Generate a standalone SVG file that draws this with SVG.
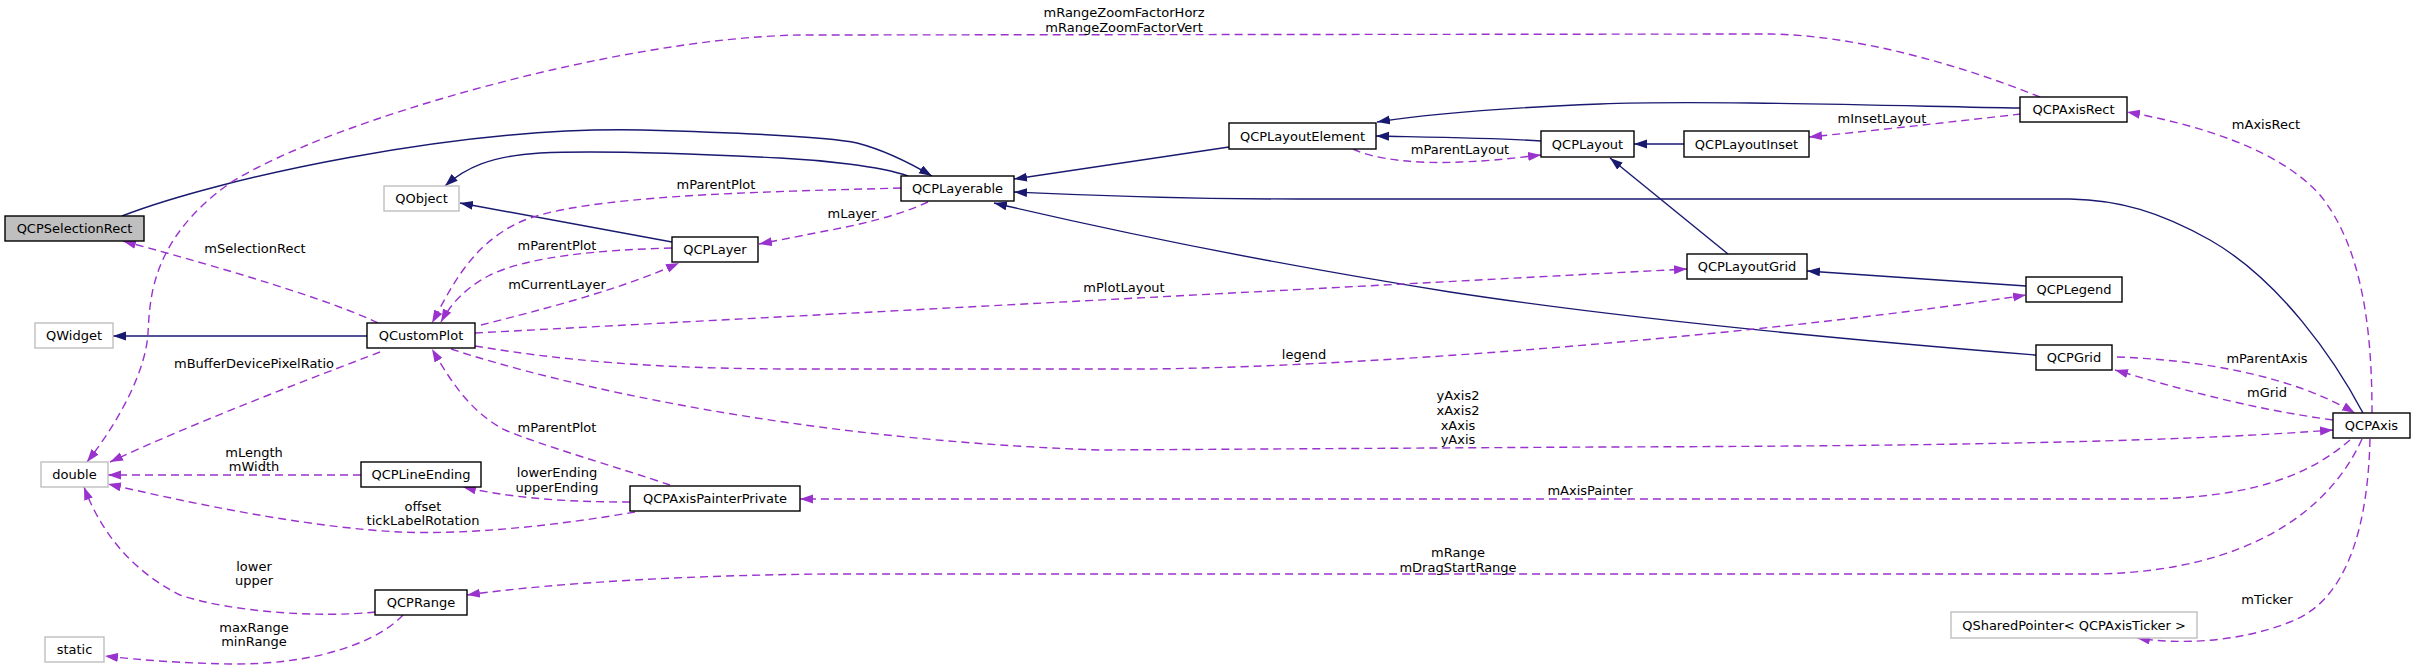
<svg xmlns="http://www.w3.org/2000/svg" width="2416" height="669" viewBox="0 0 2416 669">
<style>
text{font-family:"DejaVu Sans","Liberation Sans",sans-serif;font-size:13px;fill:#000;text-anchor:middle}
.n rect{fill:#fff;stroke:#000;stroke-width:1.4}
.n.ext rect{stroke:#bfbfbf}
.n.sel rect{fill:#bfbfbf}
.inh{fill:none;stroke:#191970;stroke-width:1.4;marker-end:url(#an)}
.use{fill:none;stroke:#9a32cd;stroke-width:1.4;stroke-dasharray:8,5;marker-end:url(#ap)}
</style>
<defs>
<marker id="an" markerUnits="userSpaceOnUse" markerWidth="14" markerHeight="10" refX="13" refY="4.5" orient="auto"><path d="M0,0 L13,4.5 L0,9 z" fill="#191970"/></marker>
<marker id="ap" markerUnits="userSpaceOnUse" markerWidth="14" markerHeight="10" refX="13" refY="4.5" orient="auto"><path d="M0,0 L13,4.5 L0,9 z" fill="#9a32cd"/></marker>
</defs>
<rect width="2416" height="669" fill="#fff"/>
<g id="connectors">
<path class="inh" d="M122,216 C220,178 460,126 642,130 C750,133 830,137 857,143 C884,150 910,163 932,176"/>
<path class="inh" d="M908,176 C880,166 820,160 780,158 C700,154 600,150 540,153 C490,156 465,168 445,186"/>
<path class="inh" d="M672,242 L460,203"/>
<path class="inh" d="M367,336 L113,336"/>
<path class="inh" d="M1229,147 L1014,179"/>
<path class="inh" d="M1541,141 C1500,138 1420,137 1376,136"/>
<path class="inh" d="M2020,108 C1900,106 1700,100 1600,104 C1500,108 1420,115 1377,122"/>
<path class="inh" d="M1684,144 L1634,144"/>
<path class="inh" d="M1728,254 L1610,158"/>
<path class="inh" d="M2026,286 L1807,271"/>
<path class="inh" d="M2363,413 C2335,360 2280,280 2210,240 C2160,212 2120,200 2070,199 L1300,199 C1200,199 1100,196 1014,192"/>
<path class="inh" d="M2036,355 C1850,340 1620,318 1450,292 C1300,268 1130,235 994,203"/>

<path class="use" d="M2040,97 C1960,65 1860,36 1772,34 L800,35 C620,38 330,120 230,183 C150,240 150,300 148,333 C146,370 120,420 87,462"/>
<text x="1124" y="16.5">mRangeZoomFactorHorz</text>
<text x="1124" y="31.5">mRangeZoomFactorVert</text>
<path class="use" d="M378,323 C330,300 230,270 123,241"/>
<text x="255" y="253">mSelectionRect</text>
<path class="use" d="M901,188 C760,192 580,195 520,222 C470,245 450,290 432,323"/>
<text x="716" y="189">mParentPlot</text>
<path class="use" d="M672,248 C600,250 530,256 490,275 C465,288 450,305 441,322"/>
<text x="557" y="250">mParentPlot</text>
<path class="use" d="M481,325 C540,310 620,290 679,263"/>
<text x="557" y="289">mCurrentLayer</text>
<path class="use" d="M928,202 C900,215 860,225 820,232 C795,237 775,241 759,244"/>
<text x="852" y="218">mLayer</text>
<path class="use" d="M475,333 L1687,269"/>
<text x="1124" y="292">mPlotLayout</text>
<path class="use" d="M475,346 C560,360 650,369 800,369 L1150,369 C1400,366 1800,330 2026,295"/>
<text x="1304" y="359">legend</text>
<path class="use" d="M451,349 C560,385 800,440 1100,450 L1600,447 C2000,446 2200,440 2333,430"/>
<text x="1458" y="400">yAxis2</text>
<text x="1458" y="415">xAxis2</text>
<text x="1458" y="429.5">xAxis</text>
<text x="1458" y="444">yAxis</text>
<path class="use" d="M2350,440 C2310,475 2250,499 2140,499 L800,499"/>
<text x="1590" y="495">mAxisPainter</text>
<path class="use" d="M2362,439 C2330,510 2250,570 2100,574 L830,574 C700,575 560,582 467,595"/>
<text x="1458" y="556.5">mRange</text>
<text x="1458" y="571.5">mDragStartRange</text>
<path class="use" d="M2370,439 C2368,520 2350,600 2290,622 C2240,642 2180,645 2137,638"/>
<text x="2267" y="603.5">mTicker</text>
<path class="use" d="M2372,413 C2372,340 2365,250 2320,195 C2280,150 2200,125 2127,112"/>
<text x="2266" y="128.5">mAxisRect</text>
<path class="use" d="M2117,357 C2200,360 2290,375 2355,413"/>
<text x="2267" y="362.5">mParentAxis</text>
<path class="use" d="M2333,420 C2260,410 2200,395 2115,370"/>
<text x="2267" y="396.5">mGrid</text>
<path class="use" d="M1353,149 C1375,160 1420,164 1460,162 C1490,161 1515,158 1541,155"/>
<text x="1460" y="153.5">mParentLayout</text>
<path class="use" d="M2021,114 C1950,122 1880,130 1809,137"/>
<text x="1882" y="122.5">mInsetLayout</text>
<path class="use" d="M380,352 C320,375 200,420 110,462"/>
<text x="254" y="367.5">mBufferDevicePixelRatio</text>
<path class="use" d="M361,475 L108,475"/>
<text x="254" y="456.5">mLength</text>
<text x="254" y="471">mWidth</text>
<path class="use" d="M630,502 C580,502 520,500 463,487"/>
<text x="557" y="477">lowerEnding</text>
<text x="557" y="492">upperEnding</text>
<path class="use" d="M635,512 C560,525 470,535 400,532 C320,528 220,510 108,484"/>
<text x="423" y="510.5">offset</text>
<text x="423" y="525">tickLabelRotation</text>
<path class="use" d="M670,485 C620,468 540,445 505,430 C470,412 450,380 432,349"/>
<text x="557" y="431.5">mParentPlot</text>
<path class="use" d="M375,612 C320,618 230,612 180,595 C130,570 100,530 84,487"/>
<text x="254" y="571">lower</text>
<text x="254" y="585">upper</text>
<path class="use" d="M403,615 C380,640 320,665 230,664 C180,663 140,660 105,656"/>
<text x="254" y="631.5">maxRange</text>
<text x="254" y="645.5">minRange</text>
</g>
<g id="QCPSelectionRect" class="n sel"><rect x="5" y="216" width="139" height="25"/><text x="74.5" y="233">QCPSelectionRect</text></g>
<g id="QObject" class="n ext"><rect x="384" y="186" width="75" height="25"/><text x="421.5" y="203">QObject</text></g>
<g id="QCPLayer" class="n"><rect x="672" y="237" width="86" height="25"/><text x="715" y="254">QCPLayer</text></g>
<g id="QWidget" class="n ext"><rect x="35" y="323" width="78" height="25"/><text x="74" y="340">QWidget</text></g>
<g id="QCustomPlot" class="n"><rect x="367" y="323" width="108" height="25"/><text x="421" y="340">QCustomPlot</text></g>
<g id="double" class="n ext"><rect x="41" y="462" width="67" height="25"/><text x="74.5" y="479">double</text></g>
<g id="QCPLineEnding" class="n"><rect x="361" y="462" width="120" height="25"/><text x="421" y="479">QCPLineEnding</text></g>
<g id="QCPAxisPainterPrivate" class="n"><rect x="630" y="486" width="170" height="25"/><text x="715" y="503">QCPAxisPainterPrivate</text></g>
<g id="QCPRange" class="n"><rect x="375" y="590" width="92" height="25"/><text x="421" y="607">QCPRange</text></g>
<g id="static" class="n ext"><rect x="45" y="637" width="59" height="25"/><text x="74.5" y="654">static</text></g>
<g id="QCPLayerable" class="n"><rect x="901" y="176" width="113" height="25"/><text x="957.5" y="193">QCPLayerable</text></g>
<g id="QCPLayoutElement" class="n"><rect x="1229" y="123" width="147" height="26"/><text x="1302.5" y="140.5">QCPLayoutElement</text></g>
<g id="QCPLayout" class="n"><rect x="1541" y="131" width="93" height="26"/><text x="1587.5" y="148.5">QCPLayout</text></g>
<g id="QCPLayoutInset" class="n"><rect x="1684" y="131" width="125" height="26"/><text x="1746.5" y="148.5">QCPLayoutInset</text></g>
<g id="QCPAxisRect" class="n"><rect x="2020" y="97" width="107" height="25"/><text x="2073.5" y="114">QCPAxisRect</text></g>
<g id="QCPLayoutGrid" class="n"><rect x="1687" y="254" width="120" height="25"/><text x="1747" y="271">QCPLayoutGrid</text></g>
<g id="QCPLegend" class="n"><rect x="2026" y="277" width="96" height="25"/><text x="2074" y="294">QCPLegend</text></g>
<g id="QCPGrid" class="n"><rect x="2036" y="345" width="76" height="25"/><text x="2074" y="362">QCPGrid</text></g>
<g id="QCPAxis" class="n"><rect x="2333" y="413" width="77" height="25"/><text x="2371.5" y="430">QCPAxis</text></g>
<g id="QSharedPointer" class="n ext"><rect x="1951" y="612" width="246" height="26"/><text x="2074" y="629.5">QSharedPointer&lt; QCPAxisTicker &gt;</text></g>
</svg>
